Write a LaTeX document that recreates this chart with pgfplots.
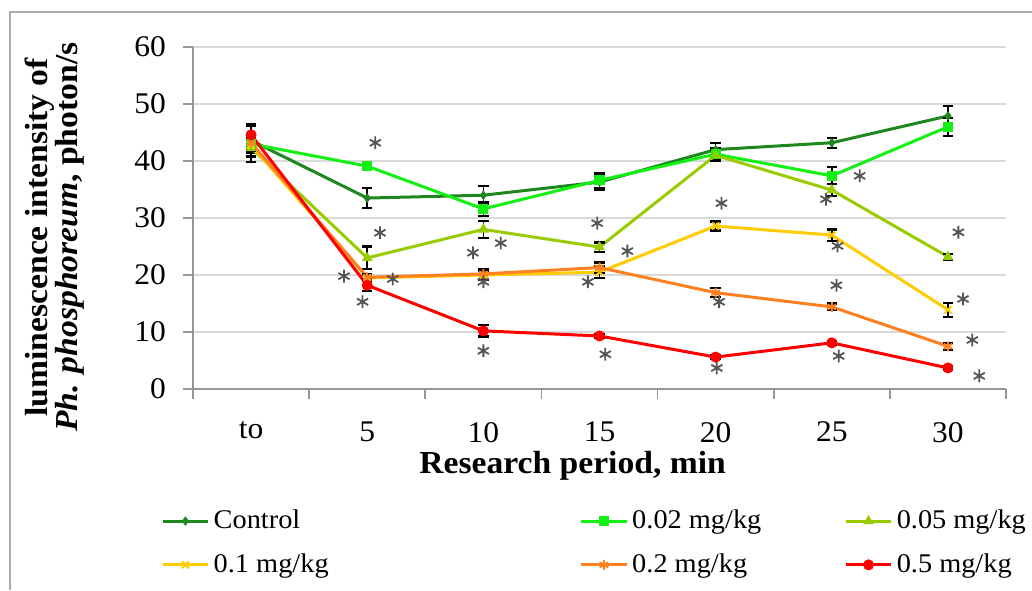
\documentclass[border=0pt]{standalone}
\usepackage{fontspec}
\setmainfont[FakeStretch=1.05]{Liberation Serif}
\usepackage{pgfplots}
\usepackage{pgfplotstable}
\pgfplotsset{compat=1.18}

\definecolor{cCtrl}{RGB}{30,135,30}
\definecolor{cA}{RGB}{20,240,20}
\definecolor{cB}{RGB}{153,204,0}
\definecolor{cC}{RGB}{255,204,0}
\definecolor{cD}{RGB}{255,128,32}
\definecolor{cE}{RGB}{255,0,0}
\definecolor{gridc}{RGB}{217,217,217}
\definecolor{axc}{RGB}{150,150,150}
\definecolor{astc}{RGB}{85,85,85}

\pgfplotstableread{
x y e
0 43.6 2.8
1 33.5 1.7
2 34.0 1.6
3 36.3 1.3
4 42.0 1.2
5 43.2 0.9
6 47.9 1.7
}\ctrl
\pgfplotstableread{
x y e
0 43.0 1.5
1 39.1 0.5
2 31.6 1.2
3 36.6 1.3
4 41.2 1.0
5 37.4 1.5
6 46.0 1.6
}\dA
\pgfplotstableread{
x y e
0 42.3 2.5
1 23.0 2.0
2 28.0 1.5
3 24.9 0.8
4 41.0 1.0
5 34.9 1.0
6 23.2 0.5
}\dB
\pgfplotstableread{
x y e
0 42.8 1.0
1 19.5 0.5
2 20.0 0.8
3 20.5 1.0
4 28.6 0.8
5 27.0 1.0
6 13.9 1.2
}\dC
\pgfplotstableread{
x y e
0 43.2 1.0
1 19.6 0.5
2 20.2 0.9
3 21.3 0.9
4 16.9 0.8
5 14.4 0.6
6 7.5 0.6
}\dD
\pgfplotstableread{
x y e
0 44.6 1.5
1 18.2 1.0
2 10.2 1.0
3 9.3 0.3
4 5.6 0.3
5 8.1 0.3
6 3.7 0.3
}\dE

\begin{document}
\begin{tikzpicture}
\path[use as bounding box] (0,0) rectangle (516pt,295pt);
\draw[axc!80, line width=1pt] (5pt,0) -- (5pt,289pt) -- (516pt,289pt);
\begin{axis}[
  at={(96.5pt,100.5pt)}, anchor=south west,
  scale only axis, width=406.5pt, height=171pt,
  xmin=-0.5, xmax=6.5, ymin=0, ymax=60,
  ytick={0,10,...,60},
  xtick={0,...,6}, xticklabels={to,5,10,15,20,25,30},
  minor xtick={-0.5,0.5,...,6.5},
  axis x line*=bottom, axis y line*=left,
  axis line style={axc, line width=0.8pt, -},
  ymajorgrids, grid style={gridc, line width=0.9pt},
  tick align=outside, major tick length=5pt, minor tick length=5pt,
  every tick/.style={axc, line width=0.8pt},
  major x tick style={draw=none},
  /pgf/number format/assume math mode=true,
  tick label style={font=\fontsize{15}{17}\selectfont},
  xticklabel style={yshift=-8pt},
  yticklabel style={xshift=-5pt},
  xlabel={\textbf{Research period, min}},
  xlabel style={at={(axis description cs:0.467,-0.225)}, anchor=center, font=\fontsize{16}{18}\selectfont},
  ylabel={\textbf{luminescence intensity of}\\\textbf{\textit{Ph. phosphoreum}, photon/s}},
  ylabel style={at={(axis description cs:-0.17,0.444)}, anchor=center, align=center, font=\fontsize{16}{15}\selectfont},
  clip=false,
  legend style={at={(axis description cs:-0.047,-0.33)}, anchor=north west, draw=none, fill=none,
    font=\fontsize{13.5}{15}\selectfont, row sep=7pt,
    /tikz/every even column/.append style={column sep=0pt}},
  legend columns=3,
  legend image code/.code={\draw[mark repeat=2,mark phase=2] plot coordinates {(0cm,0cm) (0.4cm,0cm) (0.8cm,0cm)};},
  error bars/error bar style={black, line width=0.8pt},
  error bars/error mark options={black, rotate=90, mark size=2.6pt, line width=1.1pt},
]
\addplot[cCtrl, line width=1.5pt, mark=diamond*, mark size=2pt, mark options={solid, line width=0.5pt},
  error bars/.cd, y dir=both, y explicit] table[x=x, y=y, y error=e] {\ctrl};
\addlegendentry{\makebox[181pt][l]{Control}}
\addplot[cA, line width=1.5pt, mark=square*, mark size=2.3pt, mark options={solid, line width=0.5pt},
  error bars/.cd, y dir=both, y explicit] table[x=x, y=y, y error=e] {\dA};
\addlegendentry{\makebox[104pt][l]{0.02 mg/kg}}
\addplot[cB, line width=1.5pt, mark=triangle*, mark size=2.6pt, mark options={solid, line width=0.5pt},
  error bars/.cd, y dir=both, y explicit] table[x=x, y=y, y error=e] {\dB};
\addlegendentry{\makebox[68pt][l]{0.05 mg/kg}}
\addplot[cC, line width=1.5pt, mark=x, mark size=2.5pt, mark options={solid, line width=1pt},
  error bars/.cd, y dir=both, y explicit] table[x=x, y=y, y error=e] {\dC};
\addlegendentry{\makebox[181pt][l]{0.1 mg/kg}}
\addplot[cD, line width=1.5pt, mark=asterisk, mark size=2.5pt, mark options={solid, line width=1pt},
  error bars/.cd, y dir=both, y explicit] table[x=x, y=y, y error=e] {\dD};
\addlegendentry{\makebox[104pt][l]{0.2 mg/kg}}
\addplot[cE, line width=1.5pt, mark=*, mark size=2.5pt, mark options={solid, line width=0.5pt},
  error bars/.cd, y dir=both, y explicit] table[x=x, y=y, y error=e] {\dE};
\addlegendentry{\makebox[68pt][l]{0.5 mg/kg}}
\addplot[only marks, mark=asterisk, mark size=3.2pt, astc, mark options={line width=0.9pt}, forget plot]
coordinates {
(1.07,43.2) (0.80,19.8) (1.11,27.4) (1.22,19.3) (0.96,15.3)
(1.91,23.9) (2.15,25.6) (2.00,18.8) (2.00,6.7)
(2.98,29.1) (2.90,18.8) (3.24,24.2) (3.05,6.1)
(4.05,32.6) (4.03,15.3) (4.01,3.7)
(4.95,33.3) (5.24,37.4) (5.05,25.1) (5.04,18.2) (5.06,5.8)
(6.09,27.5) (6.13,15.8) (6.21,8.6) (6.27,2.3)
};
\end{axis}
\end{tikzpicture}
\end{document}
